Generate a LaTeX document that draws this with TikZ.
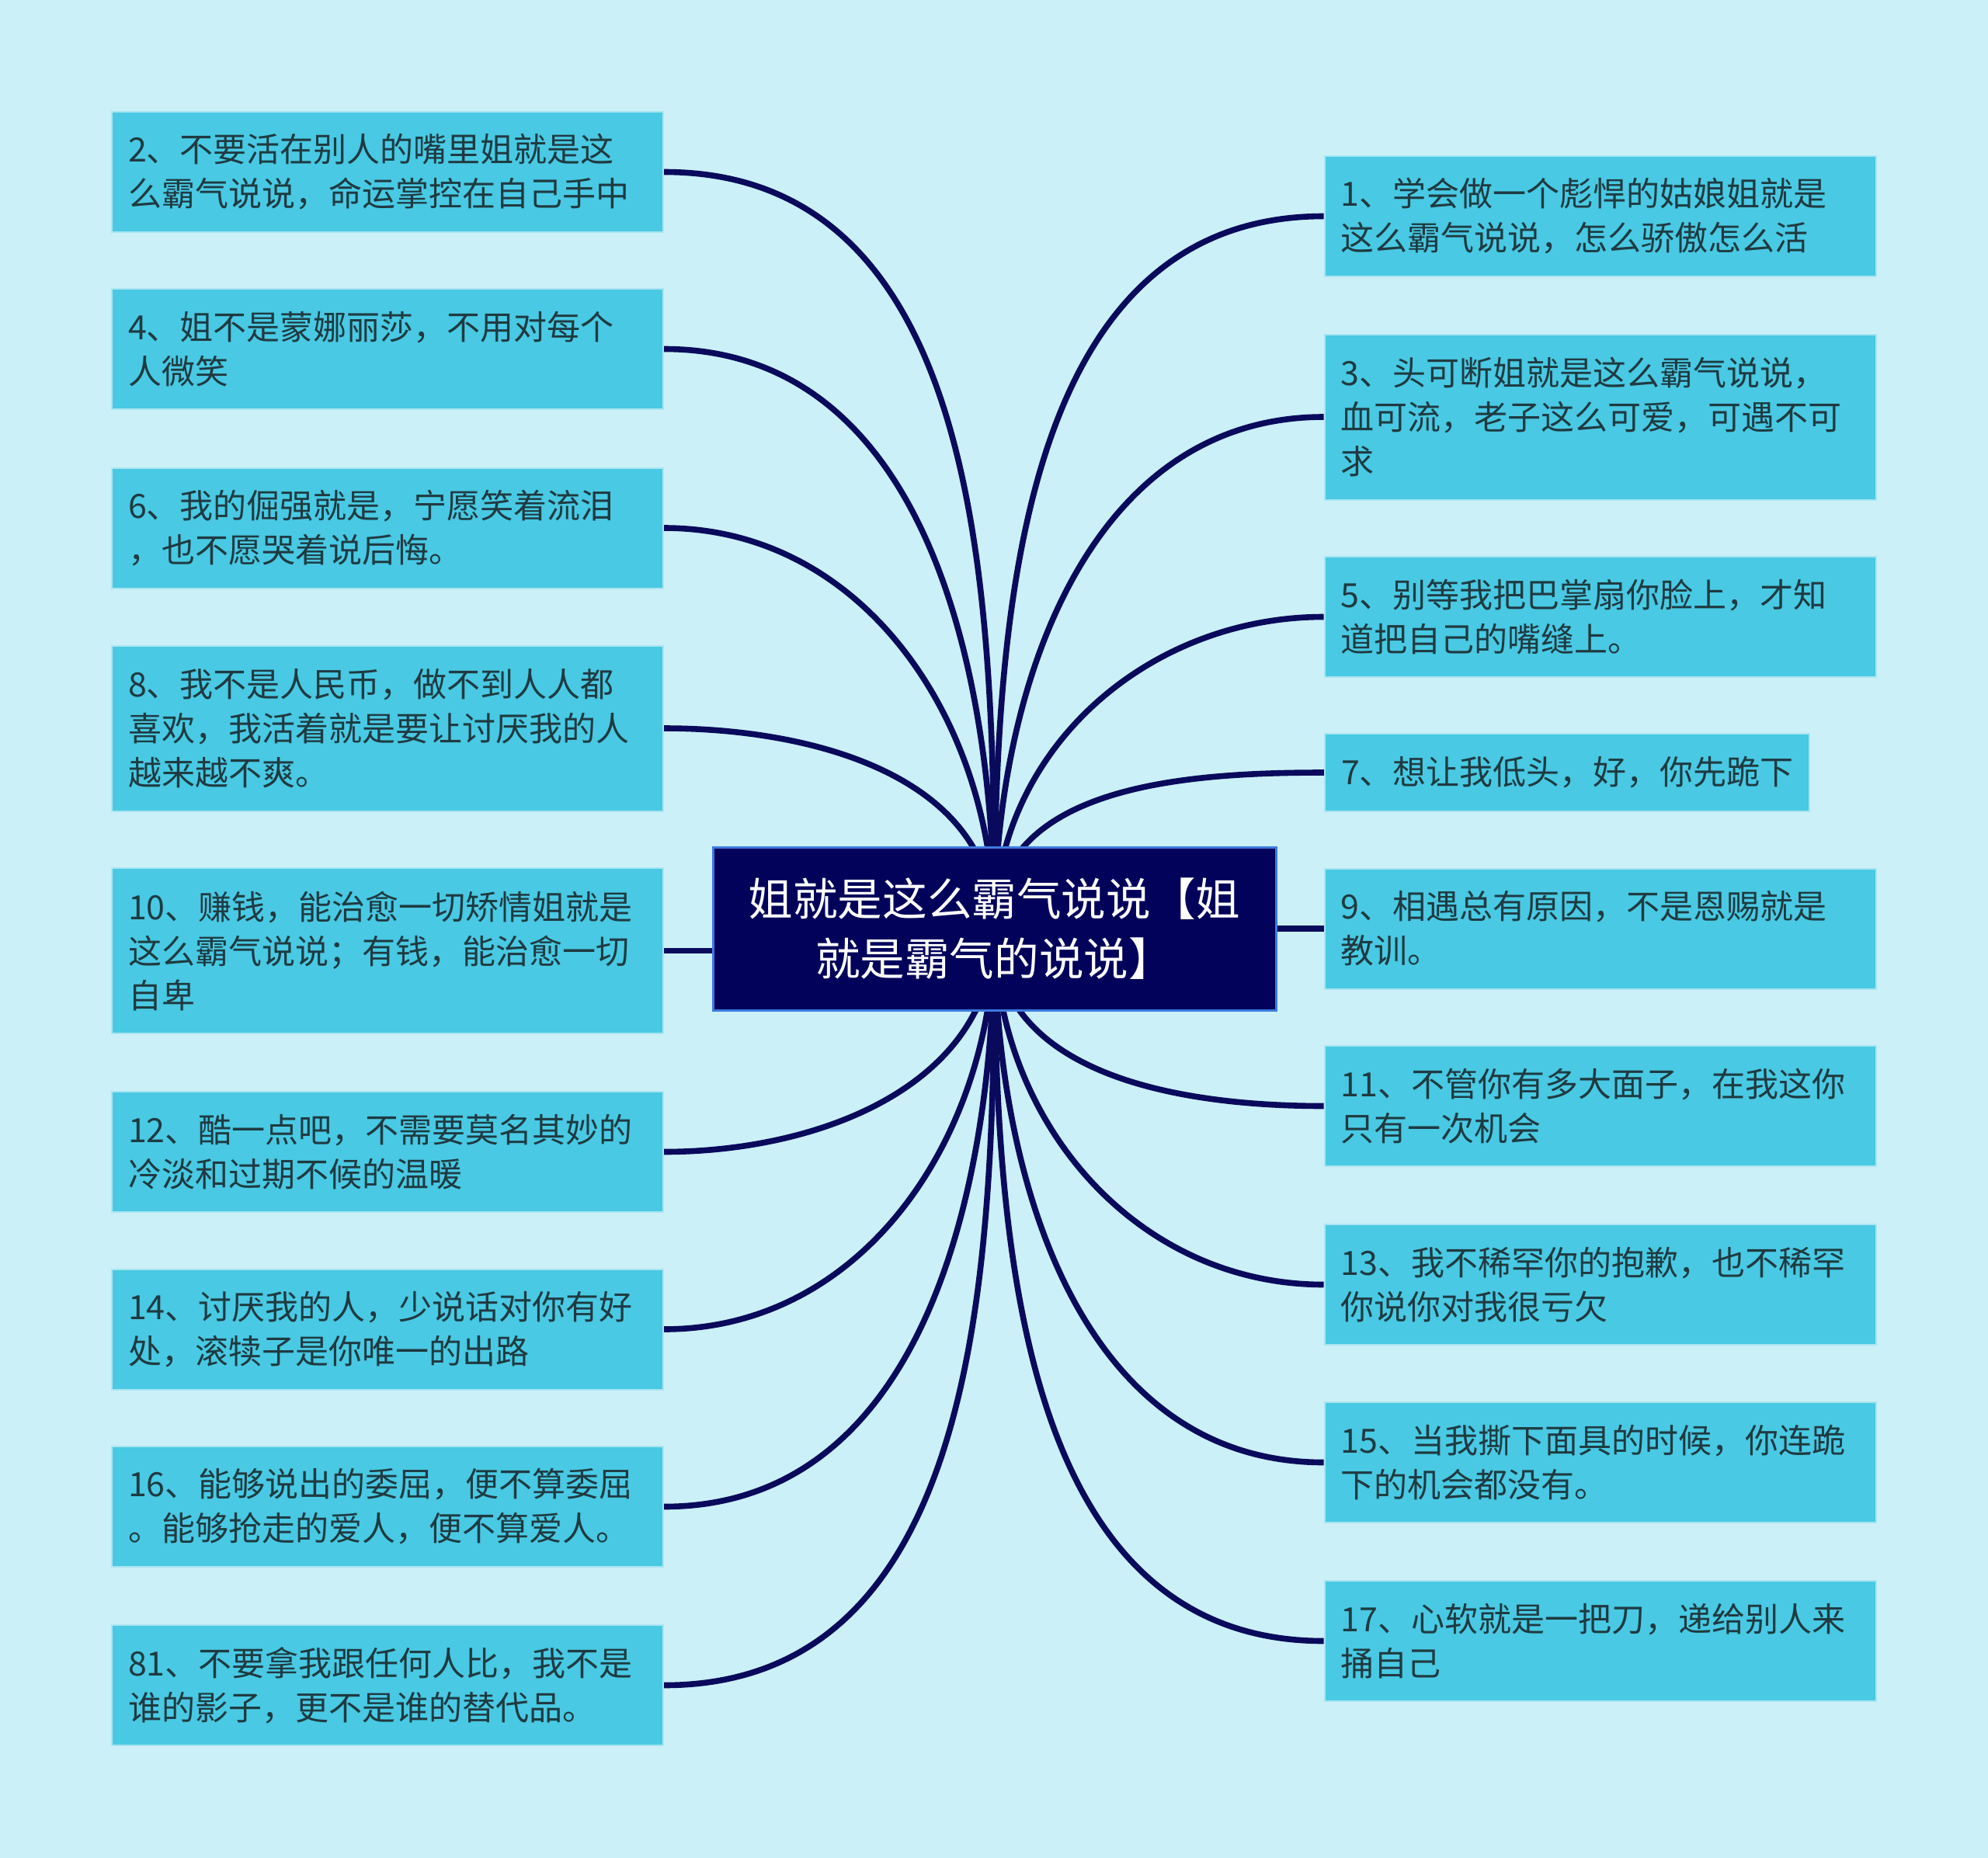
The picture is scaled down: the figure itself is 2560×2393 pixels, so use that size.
\documentclass[tikz,border=0pt]{standalone}
\usepackage{fontspec}
\newfontfamily\cjk{Noto Sans CJK SC}
\usetikzlibrary{backgrounds}

\definecolor{paper}{HTML}{CBF0F7}
\definecolor{leaffill}{HTML}{49C9E3}
\definecolor{leafedge}{HTML}{A9E5F1}
\definecolor{leaftext}{HTML}{1F3A41}
\definecolor{rootfill}{HTML}{02025B}
\definecolor{rootedge}{HTML}{3C7BE0}
\definecolor{branch}{HTML}{0A0A5C}

\begin{document}
\begin{tikzpicture}[x=0.5pt, y=-0.5pt,
        leaf/.style={rectangle, fill=leaffill, draw=leafedge, line width=1pt,
            text=leaftext, font=\cjk\fontsize{21.5}{28.5}\selectfont,
            text width=334pt, align=left, inner xsep=10.5pt, inner ysep=0pt,
            minimum height=77.5pt},
        tall/.style={minimum height=106.5pt},
        short/.style={minimum height=50pt, text width=291pt},
        root/.style={rectangle, fill=rootfill, draw=rootedge, line width=1.5pt,
            text=white, font=\cjk\fontsize{28.8}{38.5}\selectfont,
            align=center, minimum width=362.5pt, minimum height=105pt},
        link/.style={draw=branch, line width=3.8pt}]

        \useasboundingbox (0,0) rectangle (2560,2393);

        % centre
        \node[root] (main) at (1280.5,1196) {姐就是这么霸气说说【姐\\就是霸气的说说】};

        % left column
        \node[leaf] (L2) at (499,221.5) {2、不要活在别人的嘴里姐就是这\\么霸气说说，命运掌控在自己手中};
        \node[leaf] (L4) at (499,449.5) {4、姐不是蒙娜丽莎，不用对每个\\人微笑};
        \node[leaf] (L6) at (499,680) {6、我的倔强就是，宁愿笑着流泪\\，也不愿哭着说后悔。};
        \node[leaf, tall] (L8) at (499,938) {8、我不是人民币，做不到人人都\\喜欢，我活着就是要让讨厌我的人\\越来越不爽。};
        \node[leaf, tall] (L10) at (499,1224.5) {10、赚钱，能治愈一切矫情姐就是\\这么霸气说说；有钱，能治愈一切\\自卑};
        \node[leaf] (L12) at (499,1483.5) {12、酷一点吧，不需要莫名其妙的\\冷淡和过期不候的温暖};
        \node[leaf] (L14) at (499,1712) {14、讨厌我的人，少说话对你有好\\处，滚犊子是你唯一的出路};
        \node[leaf] (L16) at (499,1940.5) {16、能够说出的委屈，便不算委屈\\。能够抢走的爱人，便不算爱人。};
        \node[leaf] (L81) at (499,2170.5) {81、不要拿我跟任何人比，我不是\\谁的影子，更不是谁的替代品。};

        % right column
        \node[leaf] (R1) at (2060.5,278.5) {1、学会做一个彪悍的姑娘姐就是\\这么霸气说说，怎么骄傲怎么活};
        \node[leaf, tall] (R3) at (2060.5,537) {3、头可断姐就是这么霸气说说，\\血可流，老子这么可爱，可遇不可\\求};
        \node[leaf] (R5) at (2060.5,794.5) {5、别等我把巴掌扇你脸上，才知\\道把自己的嘴缝上。};
        \node[leaf, short] (R7) at (2018,995) {7、想让我低头，好，你先跪下};
        \node[leaf] (R9) at (2060.5,1196) {9、相遇总有原因，不是恩赐就是\\教训。};
        \node[leaf] (R11) at (2060.5,1424.5) {11、不管你有多大面子，在我这你\\只有一次机会};
        \node[leaf] (R13) at (2060.5,1654.5) {13、我不稀罕你的抱歉，也不稀罕\\你说你对我很亏欠};
        \node[leaf] (R15) at (2060.5,1883.5) {15、当我撕下面具的时候，你连跪\\下的机会都没有。};
        \node[leaf] (R17) at (2060.5,2113.5) {17、心软就是一把刀，递给别人来\\捅自己};

        \begin{scope}[on background layer]
            \fill[paper] (0,0) rectangle (2560,2393);
            \foreach \n in {L2,L4,L6,L8}
                \draw[link] (main.center) to[out=90,in=0] (\n.east);
            \foreach \n in {L12,L14,L16,L81}
                \draw[link] (main.center) to[out=-90,in=0] (\n.east);
            \foreach \n in {R1,R3,R5,R7}
                \draw[link] (main.center) to[out=90,in=180] (\n.west);
            \foreach \n in {R11,R13,R15,R17}
                \draw[link] (main.center) to[out=-90,in=180] (\n.west);
            \draw[link] (L10.east) -- (L10.east -| main.west);
            \draw[link] (main.east) -- (R9.west);
        \end{scope}

    \end{tikzpicture}
\end{document}
